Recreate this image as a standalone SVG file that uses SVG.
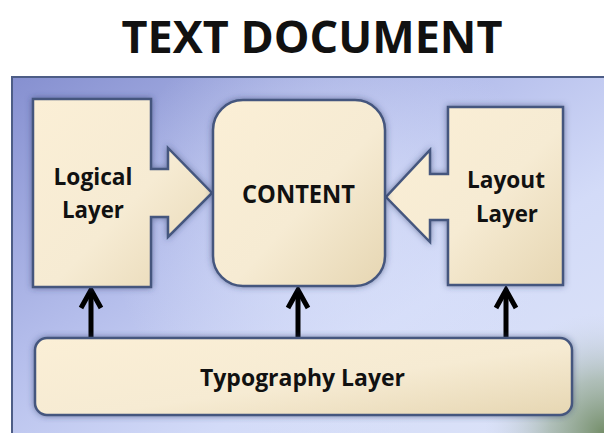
<svg xmlns="http://www.w3.org/2000/svg" width="604" height="433" viewBox="0 0 604 433">
  <defs>
    <linearGradient id="panelGrad" x1="0" y1="0" x2="1" y2="1">
      <stop offset="0" stop-color="#8690d0"/>
      <stop offset="0.35" stop-color="#b4bdeb"/>
      <stop offset="0.6" stop-color="#d3dbf8"/>
      <stop offset="0.85" stop-color="#dbe2f8"/>
      <stop offset="1" stop-color="#c7d0e4"/>
    </linearGradient>
    <radialGradient id="cornerGrad" cx="604" cy="433" r="120" gradientUnits="userSpaceOnUse">
      <stop offset="0" stop-color="#6f8a62" stop-opacity="0.95"/>
      <stop offset="0.45" stop-color="#93a890" stop-opacity="0.6"/>
      <stop offset="1" stop-color="#c9d2e6" stop-opacity="0"/>
    </radialGradient>
    <radialGradient id="glowGrad" cx="330" cy="230" r="220" gradientUnits="userSpaceOnUse">
      <stop offset="0" stop-color="#dde4fb" stop-opacity="0.7"/>
      <stop offset="1" stop-color="#dde4fb" stop-opacity="0"/>
    </radialGradient>
    <linearGradient id="boxGrad" x1="0" y1="0" x2="1" y2="1">
      <stop offset="0" stop-color="#fbefd6"/>
      <stop offset="0.55" stop-color="#f6ebd3"/>
      <stop offset="1" stop-color="#e6d6b2"/>
    </linearGradient>
    <filter id="shadow" x="-10%" y="-10%" width="120%" height="120%">
      <feGaussianBlur in="SourceAlpha" stdDeviation="3"/>
      <feOffset dx="0" dy="0" result="b"/>
      <feFlood flood-color="#2c3a66" flood-opacity="0.55"/>
      <feComposite in2="b" operator="in"/>
      <feMerge><feMergeNode/><feMergeNode in="SourceGraphic"/></feMerge>
    </filter>
    <marker id="chev" viewBox="0 0 10 10" refX="5" refY="1.2" markerWidth="10" markerHeight="10" markerUnits="userSpaceOnUse" orient="auto-start-reverse">
    </marker>
  </defs>
  <style>
    .box { fill: url(#boxGrad); stroke: #44567e; stroke-width: 2.5; filter: url(#shadow); }
    .lbl { font-family: "Open Sans", "Liberation Sans", sans-serif; font-weight: bold; fill: #111111; text-anchor: middle; }
    .conn { stroke: #000000; stroke-width: 5; fill: none; }
    .head { stroke: #000000; stroke-width: 5; fill: none; stroke-linejoin: miter; stroke-linecap: butt; }
  </style>

  <rect x="0" y="0" width="604" height="433" fill="#ffffff"/>
  <text class="lbl" x="312" y="53" font-size="44" textLength="381" lengthAdjust="spacingAndGlyphs" fill="#000000">TEXT DOCUMENT</text>

  <g id="panel">
    <rect x="12" y="77" width="640" height="400" fill="url(#panelGrad)" stroke="#4d5d86" stroke-width="2"/>
    <rect x="13" y="78" width="640" height="400" fill="url(#glowGrad)"/>
    <rect x="13" y="78" width="640" height="400" fill="url(#cornerGrad)"/>
  </g>

  <g id="connectors">
    <line class="conn" x1="91" y1="337" x2="91" y2="290"/>
    <polyline class="head" points="81,308 91,290 101,308"/>
    <line class="conn" x1="298" y1="337" x2="298" y2="290"/>
    <polyline class="head" points="288,308 298,290 308,308"/>
    <line class="conn" x1="506" y1="337" x2="506" y2="290"/>
    <polyline class="head" points="496,308 506,290 516,308"/>
  </g>

  <g id="logical">
    <path class="box" d="M33,99 H151 V169 H168 V148 L212,193 L168,237 V217 H151 V287 H33 Z"/>
    <text class="lbl" x="93" y="185" font-size="24" textLength="79" lengthAdjust="spacingAndGlyphs">Logical</text>
    <text class="lbl" x="93" y="218" font-size="24" textLength="62" lengthAdjust="spacingAndGlyphs">Layer</text>
  </g>

  <g id="layout">
    <path class="box" d="M448,107 H563 V285 H448 V220 H430 V242 L386,197 L430,150 V174 H448 Z"/>
    <text class="lbl" x="506" y="188" font-size="24" textLength="78" lengthAdjust="spacingAndGlyphs">Layout</text>
    <text class="lbl" x="507" y="222" font-size="24" textLength="62" lengthAdjust="spacingAndGlyphs">Layer</text>
  </g>

  <g id="content">
    <rect class="box" x="213" y="100" width="172" height="186" rx="30" ry="30"/>
    <text class="lbl" x="298.5" y="203" font-size="25" textLength="113" lengthAdjust="spacingAndGlyphs">CONTENT</text>
  </g>

  <g id="typography">
    <rect class="box" x="35" y="338" width="537" height="77" rx="12" ry="12"/>
    <text class="lbl" x="302.5" y="386" font-size="24" textLength="205" lengthAdjust="spacingAndGlyphs">Typography Layer</text>
  </g>
</svg>
